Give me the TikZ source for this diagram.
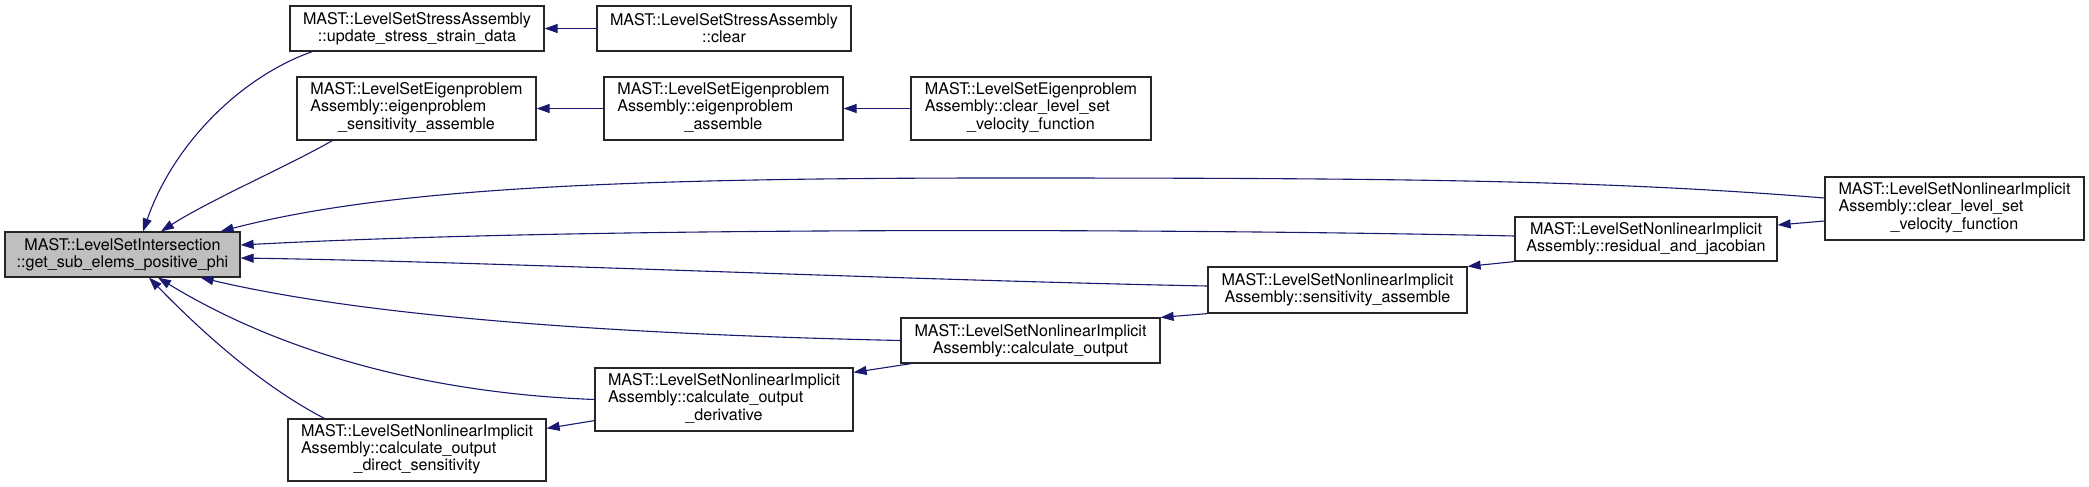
\documentclass[tikz,border=0pt]{standalone}
\usepackage{fontspec}
\setmainfont{TeX Gyre Heros}
\usetikzlibrary{arrows.meta,positioning,calc}
\definecolor{callblue}{RGB}{25,25,112}
\definecolor{rootgray}{RGB}{191,191,191}
\newcommand{\threeline}[3]{\begin{tabular}{@{}l@{}}#1\\#2\\\multicolumn{1}{@{}c@{}}{#3}\end{tabular}}

\begin{document}
\begin{tikzpicture}[x=0.5pt, y=-0.5pt,
    fbox/.style={draw=black!85, fill=white, line width=0.6pt, inner sep=0pt,
                 align=center, font=\fontsize{8.05}{8.6}\selectfont},
    rootbox/.style={fbox, fill=rootgray},
    call/.style={->, >={Triangle[length=6.5pt,width=4.5pt]}, callblue, line width=0.55pt},
]
\path[use as bounding box, fill=white] (0,0) rectangle (2089,487);

\node[rootbox, minimum width=117.5pt, minimum height=22.5pt] (root) at (122.5,254.5)
    {MAST::LevelSetIntersection\\::get\_sub\_elems\_positive\_phi};

\node[fbox, minimum width=127pt, minimum height=22.5pt] (st1) at (417,28.5)
    {MAST::LevelSetStressAssembly\\::update\_stress\_strain\_data};
\node[fbox, minimum width=127pt, minimum height=22.5pt] (st2) at (724,28.5)
    {MAST::LevelSetStressAssembly\\::clear};

\node[fbox, minimum width=119.5pt, minimum height=31.5pt] (eg1) at (416.5,108.5)
    {\threeline{MAST::LevelSetEigenproblem}{Assembly::eigenproblem}{\_sensitivity\_assemble}};
\node[fbox, minimum width=119.5pt, minimum height=31.5pt] (eg2) at (723.5,108.5)
    {\threeline{MAST::LevelSetEigenproblem}{Assembly::eigenproblem}{\_assemble}};
\node[fbox, minimum width=120pt, minimum height=31.5pt] (eg3) at (1031,108.5)
    {\threeline{MAST::LevelSetEigenproblem}{Assembly::clear\_level\_set}{\_velocity\_function}};

\node[fbox, minimum width=129.5pt, minimum height=31.5pt] (nlclr) at (1954.5,208.5)
    {\threeline{MAST::LevelSetNonlinearImplicit}{Assembly::clear\_level\_set}{\_velocity\_function}};
\node[fbox, minimum width=131pt, minimum height=22pt] (nlres) at (1646,239)
    {MAST::LevelSetNonlinearImplicit\\Assembly::residual\_and\_jacobian};
\node[fbox, minimum width=129.5pt, minimum height=23pt] (nlsens) at (1337.5,290)
    {MAST::LevelSetNonlinearImplicit\\Assembly::sensitivity\_assemble};
\node[fbox, minimum width=129.5pt, minimum height=22.5pt] (nlout) at (1030.5,340.5)
    {MAST::LevelSetNonlinearImplicit\\Assembly::calculate\_output};
\node[fbox, minimum width=129pt, minimum height=31.5pt] (nlderiv) at (724,399.5)
    {\threeline{MAST::LevelSetNonlinearImplicit}{Assembly::calculate\_output}{\_derivative}};
\node[fbox, minimum width=129pt, minimum height=31pt] (nldirect) at (417,450)
    {\threeline{MAST::LevelSetNonlinearImplicit}{Assembly::calculate\_output}{\_direct\_sensitivity}};

\draw[call] (st2.west) -- (st1.east);
\draw[call] (eg2.west) -- (eg1.east);
\draw[call] (eg3.west) -- (eg2.east);
\draw[call] ([yshift=-6.25pt]nlclr.west) -- ([yshift=7pt]nlres.east);
\draw[call] (nlres.south west) -- (nlsens.north east);
\draw[call] (nlsens.south west) -- (nlout.north east);
\draw[call] ([xshift=5.5pt]nlout.south west) -- ([yshift=-2.5pt]nlderiv.north east);
\draw[call] ([yshift=5.5pt]nlderiv.south west) -- ([yshift=-5pt]nldirect.north east);

\draw[call] ([xshift=11.5pt]st1.south west) .. controls (245,75) and (175,140)
    .. ([xshift=10.25pt]root.north);
\draw[call] ([xshift=18pt]eg1.south west) .. controls (290,165) and (210,200)
    .. ([xshift=19.25pt]root.north);
\draw[call] ([yshift=5.25pt]nlclr.west) .. controls (1600,180) and (1400,178) .. (1000,178)
    .. controls (600,178) and (380,190) .. ([xshift=-10pt]root.north east);
\draw[call] ([yshift=1.5pt]nlres.west) .. controls (1200,229) and (600,226)
    .. ([yshift=4.75pt]root.east);
\draw[call] ([yshift=2pt]nlsens.west) .. controls (900,280) and (500,262)
    .. ([yshift=-1.75pt]root.east);
\draw[call] (nlout.west) .. controls (650,335) and (380,320)
    .. ([xshift=-20pt]root.south east);
\draw[call] (nlderiv.west) .. controls (400,392) and (260,340)
    .. ([xshift=17.75pt]root.south);
\draw[call] ([xshift=18.5pt]nldirect.north west) .. controls (260,385) and (200,330)
    .. ([xshift=13.25pt]root.south);
\end{tikzpicture}
\end{document}
